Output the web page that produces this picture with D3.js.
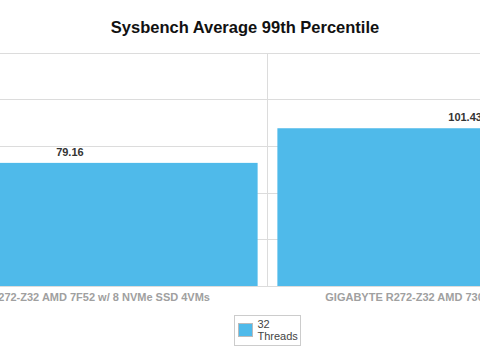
<!DOCTYPE html>
<html>
<head>
<meta charset="utf-8">
<style>
body { margin: 0; background: #fff; }
svg { display: block; font-family: 'Liberation Sans', Arial, sans-serif; }
.grid line { stroke: #dcdcdc; stroke-width: 1; shape-rendering: crispEdges; }
.cat-label { font-size: 11px; font-weight: bold; fill: #a0a0a0; }
.value-label { font-size: 11px; font-weight: bold; fill: #333; }
.title { font-size: 16.5px; font-weight: bold; fill: #111; }
.legend text { font-size: 11px; fill: #444; }
</style>
</head>
<body>

<svg></svg>

<script src="https://d3js.org/d3.v7.min.js"></script>
<script>

const categories = [
    'GIGABYTE R272-Z32 AMD 7F52 w/ 8 NVMe SSD 4VMs',
    'GIGABYTE R272-Z32 AMD 7302 w/ 8 NVMe SSD 4VMs',
];
const seriesName = ['32', 'Threads'];
const values = [79.16, 101.43];
const yTicks = [0, 30, 60, 90, 120, 150];

const barColor = '#4fbaea';
const fullWidth = 480;
const fullHeight = 353;

// the plot is wider than the window, so it is clipped on both sides
const plot = {left: -127.7, right: 662.7, top: 52.7, bottom: 286};

const svg = d3.select('svg')
    .attr('width', fullWidth)
    .attr('height', fullHeight);

const x = d3.scaleBand()
    .domain(categories)
    .range([plot.left, plot.right])
    .paddingInner(0.05)
    .paddingOuter(0.025);

const y = d3.scaleLinear()
    .domain([0, d3.max(yTicks)])
    .range([plot.bottom, plot.top]);

svg.append('text')
    .attr('class', 'title')
    .attr('x', 245)
    .attr('y', 33)
    .attr('text-anchor', 'middle')
    .text('Sysbench Average 99th Percentile');

const grid = svg.append('g').attr('class', 'grid');

grid.selectAll('.h').data(yTicks)
    .enter().append('line')
        .attr('class', 'h')
        .attr('x1', plot.left)
        .attr('x2', plot.right)
        .attr('y1', d => Math.round(y(d)) + 0.5)
        .attr('y2', d => Math.round(y(d)) + 0.5);

// dividers between category bands
grid.selectAll('.v').data(categories.slice(1))
    .enter().append('line')
        .attr('class', 'v')
        .attr('x1', d => x(d) - x.step() * x.paddingInner() / 2)
        .attr('x2', d => x(d) - x.step() * x.paddingInner() / 2)
        .attr('y1', plot.top)
        .attr('y2', plot.bottom);

svg.append('g').selectAll('rect').data(values)
    .enter().append('rect')
        .attr('x', (d, i) => x(categories[i]))
        .attr('width', x.bandwidth())
        .attr('y', d => y(d))
        .attr('height', d => y(0) - y(d))
        .attr('fill', barColor);

svg.append('g').selectAll('text').data(values)
    .enter().append('text')
        .attr('class', 'value-label')
        .attr('x', (d, i) => x(categories[i]) + x.bandwidth() / 2)
        .attr('y', d => y(d) - 7)
        .attr('text-anchor', 'middle')
        .text(d => d.toFixed(2));

svg.append('g').selectAll('text').data(categories)
    .enter().append('text')
        .attr('class', 'cat-label')
        .attr('x', d => x(d) + x.bandwidth() / 2)
        .attr('y', plot.bottom + 15)
        .attr('text-anchor', 'middle')
        .text(d => d);

const legend = svg.append('g')
    .attr('class', 'legend')
    .attr('transform', 'translate(234.5, 315.5)');

legend.append('rect')
    .attr('width', 66)
    .attr('height', 30)
    .attr('fill', '#fff')
    .attr('stroke', '#ccc');

legend.append('rect')
    .attr('x', 4)
    .attr('y', 8)
    .attr('width', 14)
    .attr('height', 13)
    .attr('fill', barColor)
    .attr('stroke', '#bbb');

legend.append('text')
    .selectAll('tspan').data(seriesName)
    .enter().append('tspan')
        .attr('x', 23)
        .attr('y', (d, i) => 12 + i * 12.5)
        .text(d => d);

</script>
</body>
</html>
